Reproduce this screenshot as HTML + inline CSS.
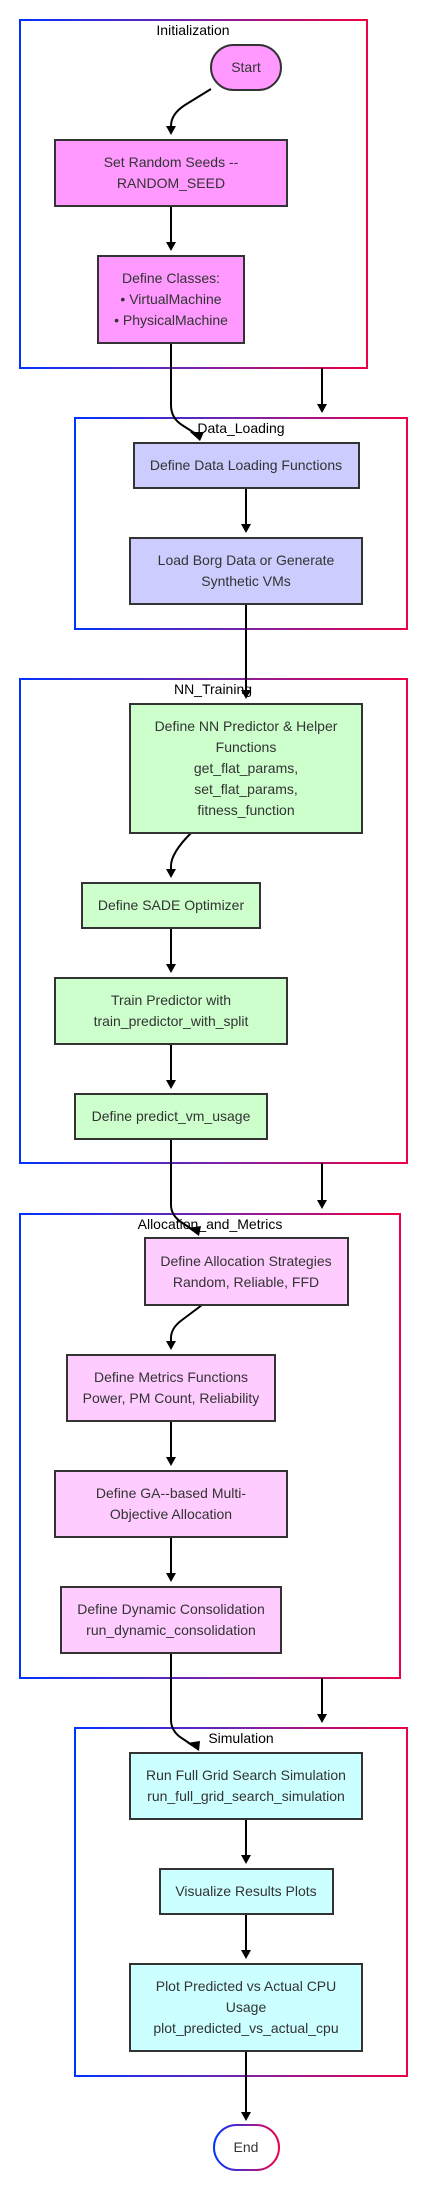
<!DOCTYPE html>
<html><head><meta charset="utf-8"><style>
html,body{margin:0;padding:0;background:#fff;}
svg{display:block;}
text{font-family:"Liberation Sans",Arial,sans-serif;font-size:14px;}
.t{fill:#333;text-anchor:middle;}
.ct{fill:#000;text-anchor:middle;}
.n{stroke:#333;stroke-width:2;}
.c{fill:none;stroke:url(#g);stroke-width:2;}
.e{fill:none;stroke:#000;stroke-width:2;}
</style></head><body>
<svg width="428" height="2191" viewBox="0 0 428 2191" xmlns="http://www.w3.org/2000/svg">
<defs>
<linearGradient id="g" x1="0" y1="0" x2="1" y2="0">
<stop offset="0" stop-color="#0033ff"/><stop offset="0.5" stop-color="#7722aa"/><stop offset="1" stop-color="#ee0044"/>
</linearGradient>
<linearGradient id="g2" x1="0" y1="0" x2="1" y2="0" gradientUnits="objectBoundingBox">
<stop offset="0" stop-color="#0033ff"/><stop offset="0.5" stop-color="#7722aa"/><stop offset="1" stop-color="#ee0044"/>
</linearGradient>
<marker id="a" markerWidth="10" markerHeight="10" refX="5" refY="9" orient="auto-start-reverse" markerUnits="userSpaceOnUse" viewBox="0 0 10 10">
<path d="M0,0 L10,0 L5,9 z" fill="#000" transform="rotate(0)"/>
</marker>
</defs>

<!-- clusters -->
<rect class="c" x="20" y="20" width="347" height="348"/>
<text class="ct" x="193" y="35">Initialization</text>
<rect class="c" x="75" y="418" width="332" height="211"/>
<text class="ct" x="241" y="433">Data_Loading</text>
<rect class="c" x="20" y="679" width="387" height="484"/>
<text class="ct" x="213" y="694">NN_Training</text>
<rect class="c" x="20" y="1214" width="380" height="464"/>
<text class="ct" x="210" y="1229">Allocation_and_Metrics</text>
<rect class="c" x="75" y="1728" width="332" height="348"/>
<text class="ct" x="241" y="1743">Simulation</text>

<!-- edges -->
<path class="e" d="M211,89 L185,105 Q171,114 171,126 L171,127"/>
<path d="M166,126 L176,126 L171,135 z"/>
<path class="e" d="M171,206 L171,243"/><path d="M166,242 L176,242 L171,251 z"/>
<path class="e" d="M171,343 L171,405 Q171,418 182,425 L196,434"/><path d="M190,432 L204,432 L200,441 z"/>
<path class="e" d="M322,368 L322,405"/><path d="M317,404 L327,404 L322,413 z"/>
<path class="e" d="M246,488 L246,525"/><path d="M241,524 L251,524 L246,533 z"/>
<path class="e" d="M246,604 L246,691"/><path d="M241,690 L251,690 L246,699 z"/>
<path class="e" d="M191,833 Q171,853 171,866 L171,870"/><path d="M166,869 L176,869 L171,878 z"/>
<path class="e" d="M171,928 L171,965"/><path d="M166,964 L176,964 L171,973 z"/>
<path class="e" d="M171,1044 L171,1081"/><path d="M166,1080 L176,1080 L171,1089 z"/>
<path class="e" d="M171,1139 L171,1205 Q171,1215 181,1222 L193,1230"/><path d="M188,1228 L201,1226 L199,1236 z"/>
<path class="e" d="M322,1163 L322,1201"/><path d="M317,1200 L327,1200 L322,1209 z"/>
<path class="e" d="M202,1305 L182,1320 Q171,1328 171,1338 L171,1342"/><path d="M166,1341 L176,1341 L171,1350 z"/>
<path class="e" d="M171,1421 L171,1458"/><path d="M166,1457 L176,1457 L171,1466 z"/>
<path class="e" d="M171,1537 L171,1574"/><path d="M166,1573 L176,1573 L171,1582 z"/>
<path class="e" d="M171,1653 L171,1720 Q171,1730 180,1737 L192,1745"/><path d="M187,1743 L200,1741 L199,1751 z"/>
<path class="e" d="M322,1678 L322,1715"/><path d="M317,1714 L327,1714 L322,1723 z"/>
<path class="e" d="M246,1819 L246,1856"/><path d="M241,1855 L251,1855 L246,1864 z"/>
<path class="e" d="M246,1914 L246,1951"/><path d="M241,1950 L251,1950 L246,1959 z"/>
<path class="e" d="M246,2051 L246,2113"/><path d="M241,2112 L251,2112 L246,2121 z"/>

<!-- nodes -->
<rect class="n" x="211" y="45" width="70" height="45" rx="22.5" fill="#ff99ff"/>
<text class="t" x="246" y="72">Start</text>

<rect class="n" x="55" y="140" width="232" height="66" fill="#ff99ff"/>
<text class="t" x="171" y="167">Set Random Seeds --</text>
<text class="t" x="171" y="188">RANDOM_SEED</text>

<rect class="n" x="98" y="256" width="146" height="87" fill="#ff99ff"/>
<text class="t" x="171" y="283">Define Classes:</text>
<text class="t" x="171" y="304">• VirtualMachine</text>
<text class="t" x="171" y="325">• PhysicalMachine</text>

<rect class="n" x="134" y="443" width="225" height="45" fill="#ccccff"/>
<text class="t" x="246" y="470">Define Data Loading Functions</text>

<rect class="n" x="130" y="538" width="232" height="66" fill="#ccccff"/>
<text class="t" x="246" y="565">Load Borg Data or Generate</text>
<text class="t" x="246" y="586">Synthetic VMs</text>

<rect class="n" x="130" y="704" width="232" height="129" fill="#ccffcc"/>
<text class="t" x="246" y="731">Define NN Predictor &amp; Helper</text>
<text class="t" x="246" y="752">Functions</text>
<text class="t" x="246" y="773">get_flat_params,</text>
<text class="t" x="246" y="794">set_flat_params,</text>
<text class="t" x="246" y="815">fitness_function</text>

<rect class="n" x="82" y="883" width="178" height="45" fill="#ccffcc"/>
<text class="t" x="171" y="910">Define SADE Optimizer</text>

<rect class="n" x="55" y="978" width="232" height="66" fill="#ccffcc"/>
<text class="t" x="171" y="1005">Train Predictor with</text>
<text class="t" x="171" y="1026">train_predictor_with_split</text>

<rect class="n" x="75" y="1094" width="192" height="45" fill="#ccffcc"/>
<text class="t" x="171" y="1121">Define predict_vm_usage</text>

<rect class="n" x="145" y="1238" width="203" height="67" fill="#ffccff"/>
<text class="t" x="246" y="1266">Define Allocation Strategies</text>
<text class="t" x="246" y="1287">Random, Reliable, FFD</text>

<rect class="n" x="67" y="1355" width="208" height="66" fill="#ffccff"/>
<text class="t" x="171" y="1382">Define Metrics Functions</text>
<text class="t" x="171" y="1403">Power, PM Count, Reliability</text>

<rect class="n" x="55" y="1471" width="232" height="66" fill="#ffccff"/>
<text class="t" x="171" y="1498">Define GA--based Multi-</text>
<text class="t" x="171" y="1519">Objective Allocation</text>

<rect class="n" x="61" y="1587" width="220" height="66" fill="#ffccff"/>
<text class="t" x="171" y="1614">Define Dynamic Consolidation</text>
<text class="t" x="171" y="1635">run_dynamic_consolidation</text>

<rect class="n" x="130" y="1753" width="232" height="66" fill="#ccffff"/>
<text class="t" x="246" y="1780">Run Full Grid Search Simulation</text>
<text class="t" x="246" y="1801">run_full_grid_search_simulation</text>

<rect class="n" x="160" y="1869" width="173" height="45" fill="#ccffff"/>
<text class="t" x="246" y="1896">Visualize Results Plots</text>

<rect class="n" x="130" y="1964" width="232" height="87" fill="#ccffff"/>
<text class="t" x="246" y="1991">Plot Predicted vs Actual CPU</text>
<text class="t" x="246" y="2012">Usage</text>
<text class="t" x="246" y="2033">plot_predicted_vs_actual_cpu</text>

<rect x="214" y="2125" width="65" height="45" rx="22.5" fill="#fff" stroke="url(#g2)" stroke-width="2"/>
<text class="t" x="246" y="2152">End</text>
</svg>
</body></html>
